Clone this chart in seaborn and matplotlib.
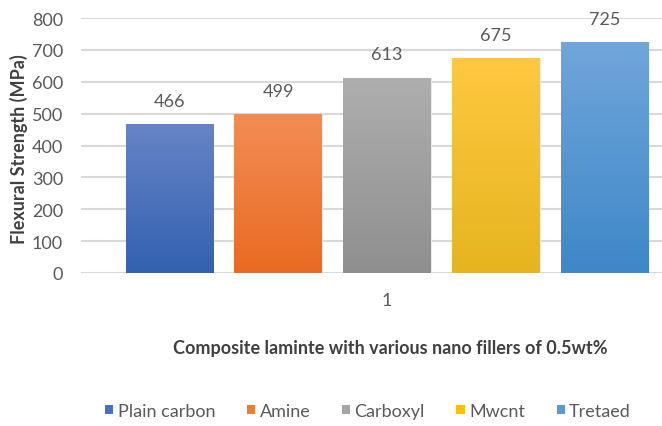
import numpy as np
import pandas as pd
import matplotlib
matplotlib.use("Agg")
import matplotlib.pyplot as plt
from matplotlib.colors import LinearSegmentedColormap
from matplotlib.patches import Patch
import seaborn as sns

# data
fillers = ["Plain carbon", "Amine", "Carboxyl", "Mwcnt", "Tretaed"]
strength = [466, 499, 613, 675, 725]
group = ["1"] * 5

# Excel-like colours (legend) and gradients (bars: top, bottom)
base_colors = ["#4472C4", "#ED7D31", "#A5A5A5", "#FFC000", "#5B9BD5"]
grad_top = ["#6784C6", "#F38D55", "#AEAEAE", "#FFC840", "#70A6DA"]
grad_bottom = ["#3361B0", "#E86A22", "#8F8F8F", "#E5B520", "#3E87C8"]

df = pd.DataFrame({"group": group, "filler": fillers, "strength": strength})

sns.set_style("white")
plt.rcParams["font.family"] = ["Lato", "DejaVu Sans"]

fig = plt.figure(figsize=(6.62, 4.27), dpi=100)
ax = fig.add_axes([81/662, 153/427, 612/662, 255/427])

sns.barplot(data=df, x="group", y="strength", hue="filler", hue_order=fillers,
            palette=base_colors, width=0.89, gap=0.2, legend=False, ax=ax,
            edgecolor="#f0f0f0", linewidth=0.6, zorder=3)

# gradient fill clipped to each bar
for i, bar in enumerate(ax.patches[:5]):
    x0 = bar.get_x()
    w = bar.get_width()
    h = bar.get_height()
    cmap = LinearSegmentedColormap.from_list("g", [grad_bottom[i], grad_top[i]])
    im = ax.imshow(np.linspace(0, 1, 256).reshape(-1, 1), cmap=cmap, aspect="auto",
                   origin="lower", extent=[x0, x0 + w, 0, h], zorder=3.5)
    im.set_clip_path(bar)

for c in ax.containers:
    ax.bar_label(c, padding=11, fontsize=13, color="#595959")

ax.set_xlim(-0.5, 0.5)
ax.set_ylim(0, 800)
ax.set_yticks(range(0, 801, 100))
ax.yaxis.grid(True, color="#D9D9D9", linewidth=1.5, zorder=0)
ax.set_axisbelow(True)
sns.despine(ax=ax, left=True, bottom=True, right=True, top=True)
ax.tick_params(axis="y", length=0, pad=13, labelsize=13, labelcolor="#595959")
ax.tick_params(axis="x", length=0, pad=14, labelsize=13, labelcolor="#595959")

ax.set_ylabel("Flexural Strength (MPa)", fontsize=13, fontweight="bold", color="#404040")
ax.yaxis.set_label_coords(-0.086, 0.49)
ax.set_xlabel("Composite laminte with various nano fillers of 0.5wt%", fontsize=13,
              fontweight="bold", color="#404040")
ax.xaxis.set_label_coords(0.505, -0.26)

handles = [Patch(facecolor=c, edgecolor="none") for c in base_colors]
fig.legend(handles, fillers, loc="center", bbox_to_anchor=(368/662, 1 - 412/427),
           ncol=5, frameon=False, fontsize=13, handlelength=0.45, handleheight=0.45,
           handletextpad=0.25, columnspacing=1.75, labelcolor="#595959")

fig.savefig("out.png", dpi=100)
